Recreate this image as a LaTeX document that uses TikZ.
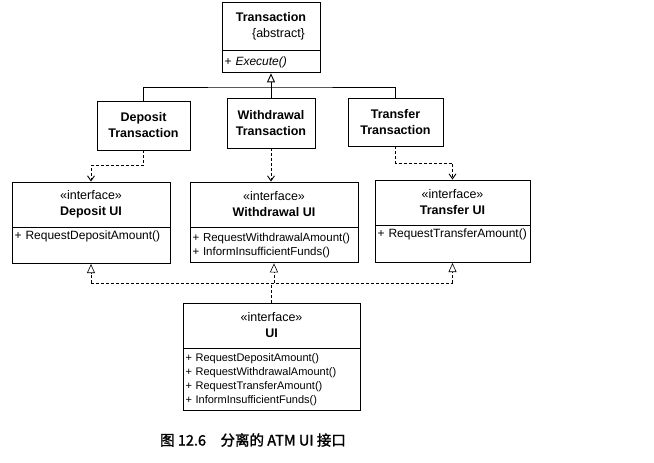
\documentclass[tikz,border=0pt]{standalone}
\usepackage{fontspec}
\setmainfont{Liberation Sans}
\newfontfamily\cjk[FakeBold=1.5]{Noto Sans CJK SC}
\usetikzlibrary{arrows.meta}

\begin{document}
\begin{tikzpicture}[x=1pt, y=-1pt, line width=0.9pt,
  hdr/.style={draw, align=center, inner sep=2pt, font=\fontsize{12.5}{16}\selectfont},
  ops/.style={draw, anchor=north, align=left, inner sep=2.5pt, font=\fontsize{12}{14}\selectfont},
  gen/.style={-{Triangle[open,length=9pt,width=8pt]}},
  dep/.style={densely dashed, -{Straight Barb[length=5pt,width=7pt]}},
  bus/.style={densely dashed, line width=0.6pt}]
  \useasboundingbox (0,0) rectangle (654,463);

  \node[hdr, minimum width=98pt, minimum height=48pt] (trans) at (271,26) {\textbf{Transaction}\\\hspace*{1.2em}\{abstract\}};
  \node[ops, minimum width=98pt, minimum height=22pt, text width=93pt] (transops) at (trans.south) {+ \textit{Execute()}};

  \node[hdr, minimum width=93pt, minimum height=49pt] (depT) at (143.5,125.5) {\textbf{Deposit}\\\textbf{Transaction}};
  \node[hdr, minimum width=88pt, minimum height=50pt] (wdrT) at (271,123) {\textbf{Withdrawal}\\\textbf{Transaction}};
  \node[hdr, minimum width=95pt, minimum height=48pt] (trfT) at (395.5,122) {\textbf{Transfer}\\\textbf{Transaction}};

  \node[hdr, minimum width=158pt, minimum height=45pt] (depUI) at (91,204.5) {«interface»\\\textbf{Deposit UI}};
  \node[ops, minimum width=158pt, text width=153pt, text depth=22pt] (depUIops) at (depUI.south) {+ RequestDepositAmount()};
  \node[hdr, minimum width=168pt, minimum height=45pt] (wdrUI) at (274,204.5) {«interface»\\\textbf{Withdrawal UI}};
  \node[ops, minimum width=168pt, minimum height=35pt, text width=163pt, font=\fontsize{11.5}{14}\selectfont] (wdrUIops) at (wdrUI.south) {+ RequestWithdrawalAmount()\\+ InformInsufficientFunds()};
  \node[hdr, minimum width=155pt, minimum height=45pt] (trfUI) at (452.5,202.5) {«interface»\\\textbf{Transfer UI}};
  \node[ops, minimum width=155pt, text width=150pt, text depth=23pt] (trfUIops) at (trfUI.south) {+ RequestTransferAmount()};

  \node[hdr, minimum width=177pt, minimum height=45pt] (ui) at (271.5,325.5) {«interface»\\\textbf{UI}};
  \node[ops, minimum width=177pt, minimum height=62pt, text width=172pt, font=\fontsize{11}{14}\selectfont] (uiops) at (ui.south) {+ RequestDepositAmount()\\+ RequestWithdrawalAmount()\\+ RequestTransferAmount()\\+ InformInsufficientFunds()};

  \coordinate (topbus) at (271,87);
  \draw[gen] (topbus) -- (transops.south);
  \draw (depT.north) |- (topbus) -| (trfT.north);
  \draw (wdrT.north) -- (topbus);

  \draw[dep] (depT.south) -- ++(0,15) -| (depUI.north);
  \draw[dep] (wdrT.south) -- (wdrT.south |- wdrUI.north);
  \draw[dep] (trfT.south) -- ++(0,17) -| (trfUI.north);

  \coordinate (botbus) at (271.5,283);
  \draw[bus] (depUIops.south |- botbus) -- (trfUIops.south |- botbus);
  \draw[bus] (ui.north) -- (botbus);
  \draw[bus, gen] (depUIops.south |- botbus) -- (depUIops.south);
  \draw[bus, gen] (wdrUIops.south |- botbus) -- (wdrUIops.south);
  \draw[bus, gen] (trfUIops.south |- botbus) -- (trfUIops.south);

  \node[font=\fontsize{14.5}{16}\selectfont] (caption) at (253,440) {\cjk 图 12.6\quad 分离的 ATM UI 接口};
\end{tikzpicture}
\end{document}
